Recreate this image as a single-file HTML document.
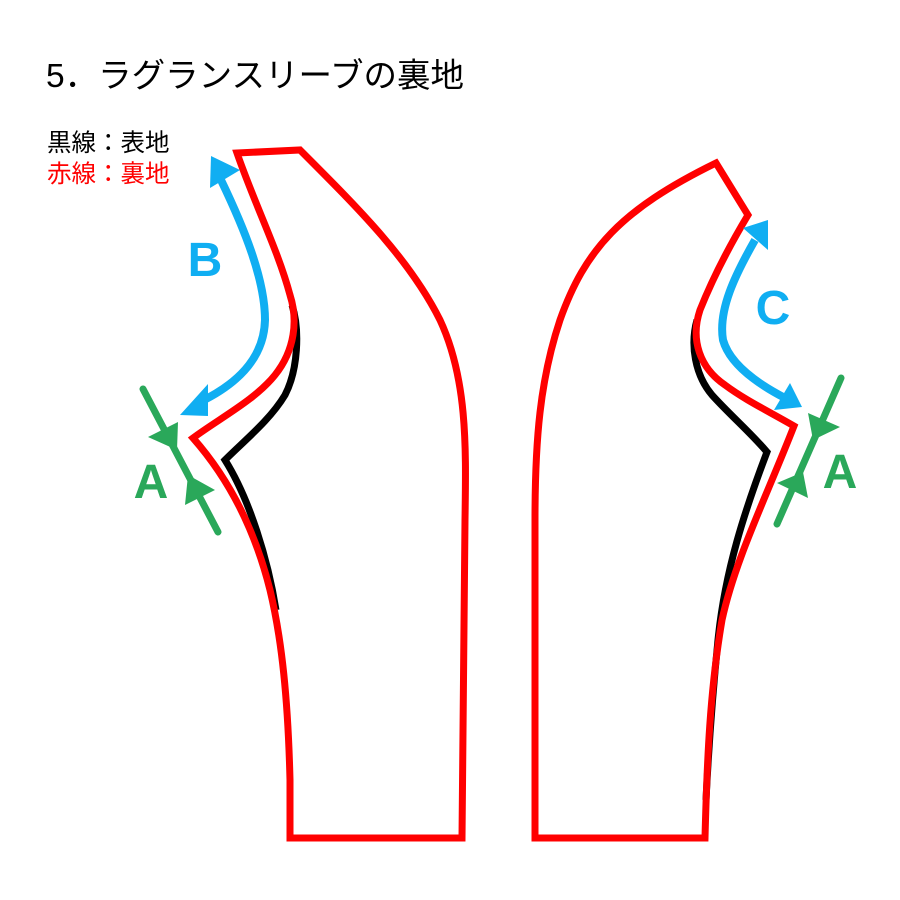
<!DOCTYPE html>
<html><head><meta charset="utf-8"><style>
body{margin:0;background:#fff;width:900px;height:900px;overflow:hidden}
svg{display:block}
</style></head><body>
<svg width="900" height="900" viewBox="0 0 900 900" xmlns="http://www.w3.org/2000/svg">
<text x="46" y="87" font-family="Liberation Sans, Noto Sans CJK JP, sans-serif" font-size="33.5" fill="#000">5．ラグランスリーブの裏地</text>
<text x="47" y="151" font-family="Liberation Sans, Noto Sans CJK JP, sans-serif" font-size="24.5" fill="#000">黒線：表地</text>
<text x="47" y="182" font-family="Liberation Sans, Noto Sans CJK JP, sans-serif" font-size="24.5" fill="#f00">赤線：裏地</text>

<g fill="none" stroke-width="7" stroke-linejoin="miter">
<path d="M292 305 C300 330 298 370 285 395 C270 420 245 440 225 460 C250 500 268 560 276 610" stroke="#000"/>
<path d="M697 320 C690 345 695 375 712 395 C730 415 750 432 767 452 C745 510 725 570 718 640 C712 700 708 760 706 800" stroke="#000"/>
<path d="M237 153 L300 150 C360 210 410 260 440 320 C468 380 466 450 465 520 L462 838 L290 838 L290 780 C288 700 282 640 270 590 C255 530 230 480 193 438 C220 418 255 400 275 375 C295 350 298 320 290 295 C278 250 255 205 237 153 Z" stroke="#f00"/>
<path d="M716 163 L748 215 C730 245 712 280 700 310 C690 340 700 368 725 385 C745 400 770 412 794 426 C765 500 735 560 722 620 C710 690 707 760 705 838 L535 838 L535 520 C535 440 540 380 560 320 C585 250 620 210 716 163 Z" stroke="#f00"/>
</g>

<g stroke="#10aef2" fill="#10aef2">
<path d="M221 180 C245 230 265 280 265 320 C264 360 235 385 200 402" fill="none" stroke-width="8"/>
<polygon points="211,156 240,170 210,188" stroke="none"/>
<polygon points="180,415 208,384 208,416" stroke="none"/>
<path d="M755 240 C735 275 718 310 723 340 C730 365 760 385 785 398" fill="none" stroke-width="8"/>
<polygon points="768,220 768,250 743,228" stroke="none"/>
<polygon points="802,407 790,383 774,410" stroke="none"/>
</g>
<text x="205" y="276" text-anchor="middle" font-family="Liberation Sans, sans-serif" font-weight="bold" font-size="48" fill="#10aef2">B</text>
<text x="773" y="324" text-anchor="middle" font-family="Liberation Sans, sans-serif" font-weight="bold" font-size="48" fill="#10aef2">C</text>

<g stroke="#2aa85a" fill="#2aa85a">
<line x1="143" y1="389" x2="218" y2="532" stroke-width="7" stroke-linecap="round"/>
<polygon points="148,437 178,422 177,450" stroke="none"/>
<polygon points="185,505 188,475 215,490" stroke="none"/>
<line x1="841" y1="378" x2="777" y2="524" stroke-width="7" stroke-linecap="round"/>
<polygon points="808,413 840,427 813,440" stroke="none"/>
<polygon points="777,483 803,472 808,498" stroke="none"/>
</g>
<text x="151" y="498" text-anchor="middle" font-family="Liberation Sans, sans-serif" font-weight="bold" font-size="48" fill="#2aa85a">A</text>
<text x="840" y="488" text-anchor="middle" font-family="Liberation Sans, sans-serif" font-weight="bold" font-size="48" fill="#2aa85a">A</text>
</svg>
</body></html>
